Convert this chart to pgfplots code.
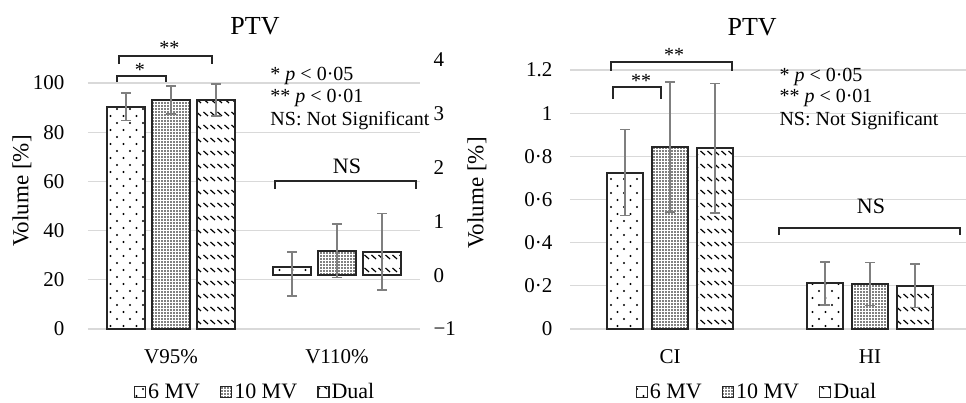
\documentclass[border=0pt]{standalone}
\usepackage{fontspec}
\setmainfont{Liberation Serif}
\usepackage{pgfplots}
\pgfplotsset{compat=1.18}
\usetikzlibrary{patterns}

\definecolor{gridgray}{HTML}{D9D9D9}
\definecolor{errgray}{HTML}{7F7F7F}
\definecolor{barline}{HTML}{262626}

% fill patterns for the three beam settings
\pgfdeclarepatternformonly{sparsedots}{\pgfqpoint{-1.2pt}{-1.2pt}}{\pgfqpoint{14.2pt}{15.2pt}}{\pgfqpoint{13pt}{14pt}}{%
  \pgfpathcircle{\pgfqpoint{0pt}{0pt}}{1.1pt}%
  \pgfpathcircle{\pgfqpoint{6.5pt}{7pt}}{1.1pt}%
  \pgfusepath{fill}}
\pgfdeclarepatternformonly{densedots}{\pgfqpoint{-1pt}{-1pt}}{\pgfqpoint{4pt}{4pt}}{\pgfqpoint{3pt}{3pt}}{%
  \pgfpathcircle{\pgfqpoint{0pt}{0pt}}{0.9pt}%
  \pgfusepath{fill}}
\pgfdeclarepatternformonly{dashrows}{\pgfqpoint{-1pt}{-1pt}}{\pgfqpoint{8pt}{14pt}}{\pgfqpoint{7pt}{13pt}}{%
  \pgfsetlinewidth{1.2pt}%
  \pgfpathmoveto{\pgfqpoint{0.5pt}{5pt}}%
  \pgfpathlineto{\pgfqpoint{5pt}{1pt}}%
  \pgfusepath{stroke}}

\pgfplotsset{
  barbase/.style={fill=white, draw=barline, line width=2pt},
  p6/.style={barbase, postaction={pattern=sparsedots}},
  p10/.style={barbase, postaction={pattern=densedots}},
  pdual/.style={barbase, postaction={pattern=dashrows}},
  errs/.style={error bars/.cd, y dir=both, y explicit,
    error bar style={draw=errgray, line width=1.5pt},
    error mark options={rotate=90, mark size=5pt, draw=errgray, line width=1.5pt}},
  common/.style={
    scale only axis, anchor=south west, clip=false,
    xmin=-0.5, xtick={0,1},
    axis line style={draw=none}, major tick length=0pt,
    tick label style={font=\fontsize{21}{24}\selectfont},
    /pgf/number format/assume math mode=true,
  },
  boxlegend/.style={
    legend image code/.code={\draw[##1,/tikz/.cd,line width=1.3pt] (0pt,-5.5pt) rectangle (11pt,5.5pt);},
  },
}

\newcommand{\tf}{\fontsize{20}{24}\selectfont}
\newcommand{\lf}{\fontsize{22}{26}\selectfont}

\begin{document}
\begin{tikzpicture}
\useasboundingbox (0,0) rectangle (966pt,403pt);

% ---- left panel, primary axis (V95%)
\begin{axis}[common,
  at={(88pt,74pt)}, width=332pt, height=269pt,
  xmax=1.5, ymin=0, ymax=109.35,
  ybar=7pt, bar width=38pt, boxlegend,
  xticklabels={V95\%,V110\%},
  xticklabel style={yshift=-17pt},
  ytick={0,20,...,100},
  yticklabel style={xshift=-20pt},
  ymajorgrids, grid style={draw=gridgray, line width=1.2pt},
  title={PTV}, title style={at={(axis description cs:0.503,1)}, anchor=center, yshift=28pt, font=\fontsize{26}{30}\selectfont},
  ylabel={Volume [\%]}, ylabel style={at={(axis description cs:-0.199,0.513)}, anchor=center, font=\fontsize{23}{28}\selectfont},
  legend style={at={(0.503,-0.234)}, anchor=center, draw=none, legend columns=3,
    font=\lf, /tikz/every even column/.append style={column sep=18pt}},
]
\addplot[p6, errs] coordinates {(0,90.4) +- (0,5.6)};
\addplot[p10, errs] coordinates {(0,93.1) +- (0,5.7)};
\addplot[pdual, errs] coordinates {(0,93.1) +- (0,6.5)};
\legend{6 MV,10 MV,Dual}

\draw[barline, line width=1.5pt] (axis cs:-0.325,100.4) |- (axis cs:-0.03,102.8) -- (axis cs:-0.03,100.4);
\node[font=\tf] at (axis cs:-0.187,105.5) {*};
\draw[barline, line width=1.5pt] (axis cs:-0.313,107.7) |- (axis cs:0.247,111) -- (axis cs:0.247,107.7);
\node[font=\tf] at (axis cs:-0.01,114.2) {**};
\draw[barline, line width=1.5pt] (axis cs:0.627,56.9) |- (axis cs:1.476,60.2) -- (axis cs:1.476,56.9);
\node[font=\fontsize{22}{26}\selectfont] at (axis cs:1.06,66.3) {NS};

\node[anchor=west, font=\tf] at (axis cs:0.578,102.8) {* \textit{p} < 0·05};
\node[anchor=west, font=\tf] at (axis cs:0.578,93.9) {** \textit{p} < 0·01};
\node[anchor=west, font=\tf] at (axis cs:0.578,84.6) {NS: Not Significant};
\end{axis}

% ---- left panel, secondary axis (V110%)
\begin{axis}[common,
  at={(88pt,74pt)}, width=332pt, height=269pt,
  xmax=1.5, ymin=-1, ymax=4,
  axis y line*=right, axis x line=none,
  ybar=7pt, bar width=38pt,
  ytick={-1,0,1,2,3,4}, yticklabels={−1,0,1,2,3,4},
  yticklabel style={xshift=10pt},
]
\addplot[p6, errs] coordinates {(1,0.15) += (0,0.28) -= (0,0.54)};
\addplot[p10, errs] coordinates {(1,0.455) +- (0,0.5)};
\addplot[pdual, errs] coordinates {(1,0.437) +- (0,0.71)};
\end{axis}

% ---- right panel (CI, HI)
\begin{axis}[common,
  at={(570pt,74pt)}, width=396pt, height=259pt,
  xmax=1.48, ymin=0, ymax=1.2,
  ybar=9pt, bar width=36pt, boxlegend,
  xticklabels={CI,HI},
  xticklabel style={yshift=-17pt},
  ytick={0,0.2,0.4,0.6,0.8,1,1.2}, yticklabels={0,0·2,0·4,0·6,0·8,1,1.2},
  yticklabel style={xshift=-14pt},
  ymajorgrids, grid style={draw=gridgray, line width=1.2pt},
  title={PTV}, title style={at={(axis description cs:0.46,1)}, anchor=center, yshift=37pt, font=\fontsize{26}{30}\selectfont},
  ylabel={Volume [\%]}, ylabel style={at={(axis description cs:-0.235,0.525)}, anchor=center, font=\fontsize{23}{28}\selectfont},
  legend style={at={(0.472,-0.242)}, anchor=center, draw=none, legend columns=3,
    font=\lf, /tikz/every even column/.append style={column sep=18pt}},
]
\addplot[p6, errs] coordinates {(0,0.725) +- (0,0.2) (1,0.211) +- (0,0.1)};
\addplot[p10, errs] coordinates {(0,0.843) +- (0,0.302) (1,0.208) +- (0,0.1)};
\addplot[pdual, errs] coordinates {(0,0.838) +- (0,0.3) (1,0.2) +- (0,0.1)};
\legend{6 MV,10 MV,Dual}

\draw[barline, line width=1.5pt] (axis cs:-0.285,1.066) |- (axis cs:-0.045,1.121) -- (axis cs:-0.045,1.066);
\node[font=\tf] at (axis cs:-0.145,1.15) {**};
\draw[barline, line width=1.5pt] (axis cs:-0.295,1.196) |- (axis cs:0.31,1.237) -- (axis cs:0.31,1.196);
\node[font=\tf] at (axis cs:0.02,1.268) {**};
\draw[barline, line width=1.5pt] (axis cs:0.545,0.436) |- (axis cs:1.45,0.468) -- (axis cs:1.45,0.436);
\node[font=\fontsize{22}{26}\selectfont] at (axis cs:1.005,0.57) {NS};

\node[anchor=west, font=\tf] at (axis cs:0.53,1.168) {* \textit{p} < 0·05};
\node[anchor=west, font=\tf] at (axis cs:0.53,1.070) {** \textit{p} < 0·01};
\node[anchor=west, font=\tf] at (axis cs:0.53,0.964) {NS: Not Significant};
\end{axis}
\end{tikzpicture}
\end{document}
